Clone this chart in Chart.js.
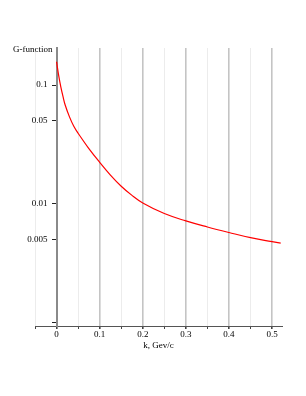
<!DOCTYPE html>
<html>
<head>
<meta charset="utf-8">
<script src="https://cdn.jsdelivr.net/npm/chart.js@4"></script>
<style>
  html, body { margin: 0; padding: 0; background: #fff; }
  #wrap { width: 306px; height: 396px; position: relative; }
</style>
</head>
<body>
<div id="wrap"><canvas id="chart"></canvas></div>
<script>
// data
const kValues = [0, 0.005, 0.01, 0.015, 0.02, 0.03, 0.04, 0.05, 0.075, 0.1, 0.125, 0.15, 0.175, 0.2, 0.25, 0.3, 0.35, 0.4, 0.45, 0.5, 0.52];
const gValues = [0.157, 0.12, 0.096, 0.08, 0.068, 0.054, 0.045, 0.0393, 0.0292, 0.0224, 0.0175, 0.0141, 0.0118, 0.0102, 0.0083, 0.0072, 0.0064, 0.00575, 0.0052, 0.00482, 0.00468];
const yTickValues = [0.001, 0.005, 0.01, 0.05, 0.1];

const FONT = { family: "'Liberation Serif', 'DejaVu Serif', serif", size: 9 };

function isMajor(v) {
  return Math.abs(v * 10 - Math.round(v * 10)) < 1e-6;
}

// y-axis caption sits left of the axis top, drawn as plain text
const yCaption = {
  id: "yCaption",
  afterDraw(chart) {
    const ctx = chart.ctx;
    const x = chart.scales.x.getPixelForValue(0);
    ctx.save();
    ctx.font = `${FONT.size}px ${FONT.family}`;
    ctx.fillStyle = "#000";
    ctx.textAlign = "right";
    ctx.textBaseline = "middle";
    ctx.fillText("G-function", x - 4, chart.chartArea.top + 2);
    ctx.restore();
  },
};

new Chart(document.getElementById("chart"), {
  type: "line",
  data: {
    datasets: [{
      data: kValues.map((k, i) => ({ x: k, y: gValues[i] })),
      borderColor: "#ff0000",
      borderWidth: 1.2,
      pointRadius: 0,
      tension: 0.4,
      fill: false,
    }],
  },
  options: {
    responsive: true, maintainAspectRatio: false, animation: false,
    layout: { padding: { left: 35, right: 24, top: 48, bottom: 45 } },
    plugins: { legend: { display: false }, tooltip: { enabled: false } },
    scales: {
      x: {
        type: "linear", min: -0.05, max: 0.523,
        afterFit: (s) => { s.height = 25; },
        ticks: {
          stepSize: 0.05, includeBounds: false, autoSkip: false, maxRotation: 0,
          color: "#000", font: FONT, padding: 0,
          callback: (v) => (isMajor(v) && v >= 0 ? String(Math.round(v * 10) / 10) : ""),
        },
        grid: {
          color: (c) => (isMajor(c.tick.value) ? "#c4c4c4" : "#ececec"),
          lineWidth: (c) => (isMajor(c.tick.value) ? 1.6 : 1),
          tickColor: "#444", tickLength: 3,
        },
        border: { color: "#555", width: 1 },
        title: { display: true, text: "k, Gev/c", color: "#000", font: FONT, padding: { top: 0, bottom: 0 } },
      },
      y: {
        type: "logarithmic", min: 0.00094, max: 0.205,
        position: { x: 0 },
        afterBuildTicks: (s) => { s.ticks = yTickValues.map((v) => ({ value: v })); },
        ticks: {
          color: "#000", font: FONT, autoSkip: false,
          callback: (v) => (v === 0.001 ? "" : String(v) + "\u2002\u2002"),
        },
        grid: { drawOnChartArea: false, drawTicks: true, tickLength: 4, tickColor: "#222" },
        border: { color: "#8a8a8a", width: 2 },
      },
    },
  },
  plugins: [yCaption],
});
</script>
</body>
</html>
